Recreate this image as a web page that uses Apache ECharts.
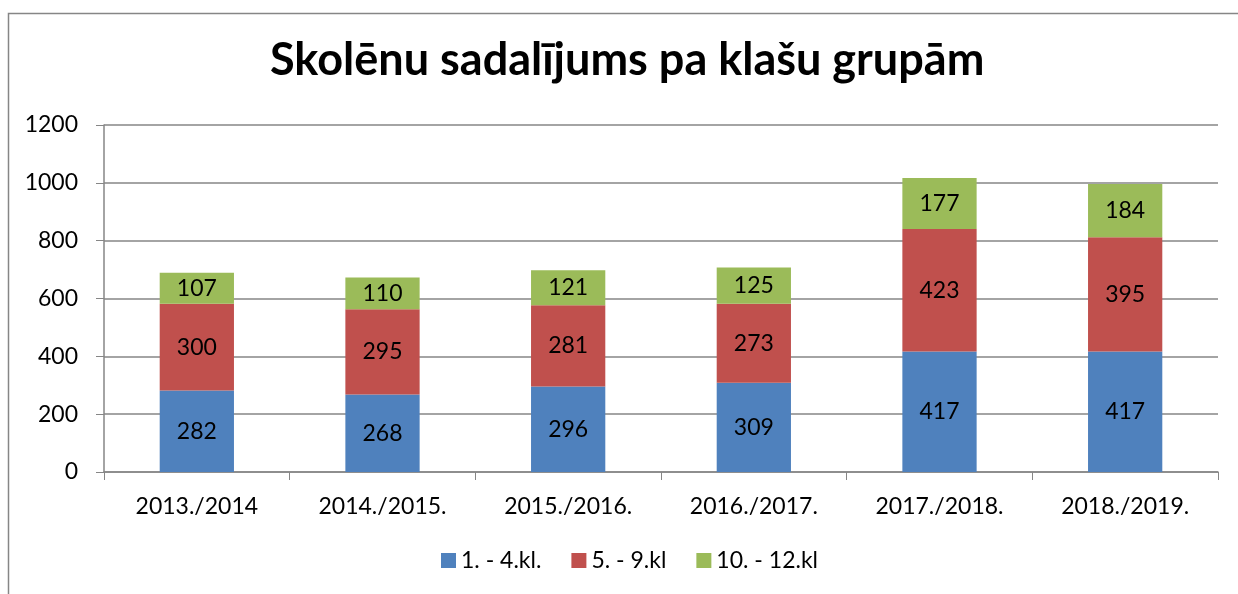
<!DOCTYPE html>
<html>
<head>
<meta charset="utf-8">
<script src="https://cdn.jsdelivr.net/npm/echarts@6/dist/echarts.min.js"></script>
<style>
  html, body { margin: 0; padding: 0; background: #fff; }
  #main { width: 1238px; height: 594px; }
</style>
</head>
<body>
<div id="main"></div>
<script>
// dati no attēla
var years = ['2013./2014', '2014./2015.', '2015./2016.', '2016./2017.', '2017./2018.', '2018./2019.'];
var kl1_4 = [282, 268, 296, 309, 417, 417];
var kl5_9 = [300, 295, 281, 273, 423, 395];
var kl10_12 = [107, 110, 121, 125, 177, 184];
var seriesNames = ['1. - 4.kl.', '5. - 9.kl', '10. - 12.kl'];

var font = 'Lato, "Open Sans", sans-serif';
var chart = echarts.init(document.getElementById('main'));

function bar(name, data, color) {
  return {
    name: name,
    type: 'bar',
    stack: 'total',
    data: data,
    barWidth: '40%',
    itemStyle: { color: color },
    label: {
      show: true,
      position: 'inside',
      color: '#000',
      fontSize: 23,
      fontFamily: font
    }
  };
}

var option = {
  animation: false,
  graphic: [{
    type: 'rect',
    shape: { x: 8.5, y: 13.5, width: 1260, height: 620 },
    style: { fill: 'none', stroke: '#868686', lineWidth: 1.5 },
    silent: true
  }],
  title: {
    text: 'Skolēnu sadalījums pa klašu grupām',
    left: 270,
    top: 38,
    padding: 0,
    textStyle: { fontSize: 45, fontWeight: 'bold', color: '#000', fontFamily: font }
  },
  legend: {
    data: seriesNames,
    bottom: 17,
    left: 436,
    icon: 'rect',
    itemWidth: 15,
    itemHeight: 15,
    itemGap: 30,
    textStyle: { fontSize: 23, color: '#000', fontFamily: font }
  },
  grid: { left: 104, right: 20, top: 125, bottom: 122, containLabel: false },
  xAxis: {
    type: 'category',
    data: years,
    axisLine: { lineStyle: { color: '#868686', width: 1.5 } },
    axisTick: { show: true, length: 8, lineStyle: { color: '#868686' } },
    axisLabel: { color: '#000', fontSize: 23, margin: 23, fontFamily: font }
  },
  yAxis: {
    type: 'value',
    min: 0,
    max: 1200,
    interval: 200,
    axisLine: { show: true, lineStyle: { color: '#868686', width: 1.5 } },
    axisTick: { show: true, length: 8, lineStyle: { color: '#868686' } },
    axisLabel: {
      color: '#000', fontSize: 23, margin: 26, fontFamily: font,
      formatter: function (v) { return String(v); }
    },
    splitLine: { lineStyle: { color: '#868686', width: 1.5 } }
  },
  series: [
    bar(seriesNames[0], kl1_4, '#4F81BD'),
    bar(seriesNames[1], kl5_9, '#C0504D'),
    bar(seriesNames[2], kl10_12, '#9BBB59')
  ]
};
chart.setOption(option);
</script>
</body>
</html>
